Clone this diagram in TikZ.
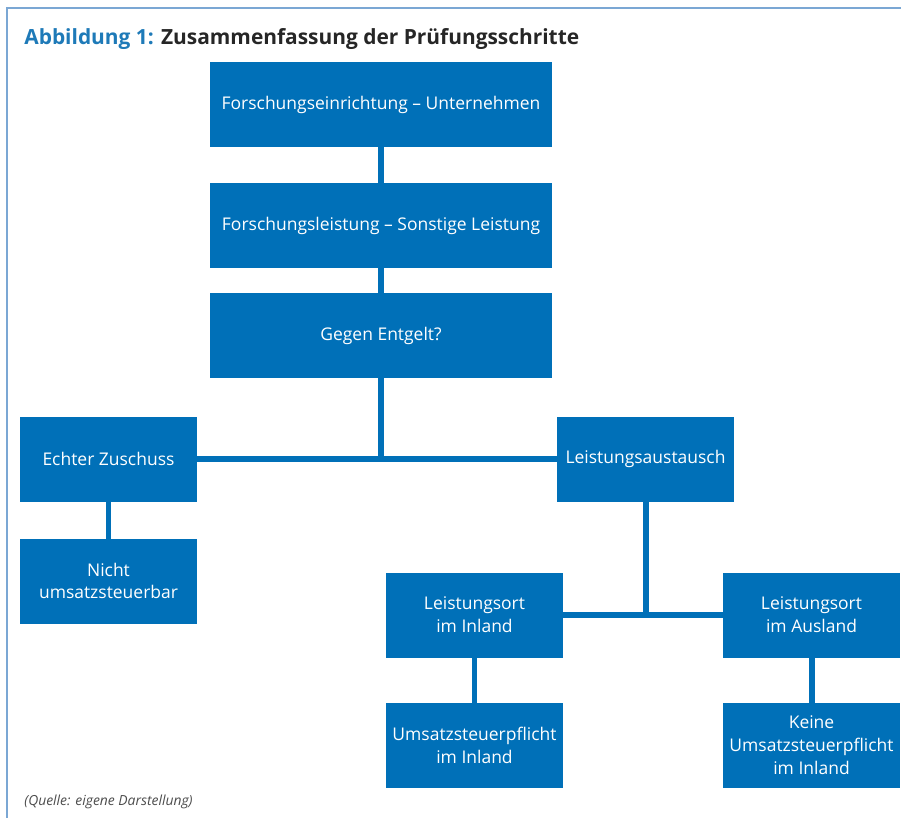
\documentclass[tikz,border=0pt]{standalone}
\usepackage{fontspec}
\setmainfont{Open Sans}
\usepackage{tikz}
\usetikzlibrary{positioning,calc}

\definecolor{boxblue}{HTML}{0070B8}
\definecolor{titleblue}{HTML}{1E7AB8}
\definecolor{frameblue}{HTML}{7BA7D4}

\tikzset{
    bigbox/.style={fill=boxblue,text=white,inner sep=0pt,outer sep=0pt,
        minimum width=6.84cm,minimum height=1.7cm,align=center,font=\fontsize{9.95}{13}\selectfont},
    smallbox/.style={bigbox,minimum width=3.54cm},
    link/.style={draw=boxblue,line width=3.4pt}
}

\begin{document}
\begin{tikzpicture}[x=0.02cm,y=-0.02cm]
            \useasboundingbox (0,0) rectangle (901,818);
            \draw[frameblue,line width=1.7pt] (901,8) -- (7,8) -- (7,818);
            \node[anchor=base west,inner sep=0pt,text=black!85,font=\fontsize{11.9}{14}\selectfont\bfseries] (titel) at (24,44)
                {\textcolor{titleblue}{Abbildung 1:} Zusammenfassung der Prüfungsschritte};

            \node[bigbox] (einrichtung) at (381,104.5) {Forschungseinrichtung – Unternehmen};
            \node[bigbox] (leistung) at (381,225.5) {Forschungsleistung – Sonstige Leistung};
            \node[bigbox] (entgelt) at (381,335.5) {Gegen Entgelt?};
            \node[smallbox] (zuschuss) at (108.5,459) {Echter Zuschuss};
            \node[smallbox] (nichtbar) at (108.5,581) {Nicht\\umsatzsteuerbar};
            \node[smallbox] (austausch) at (645.5,459) {Leistungsaustausch};
            \node[smallbox] (inland) at (474.5,615) {Leistungsort\\im Inland};
            \node[smallbox] (ausland) at (811.5,615) {Leistungsort\\im Ausland};
            \node[smallbox] (pflicht) at (474.5,745) {Umsatzsteuerpflicht\\im Inland};
            \node[smallbox] (keine) at (811.5,745) {Keine\\Umsatzsteuerpflicht\\im Inland};

            \draw[link] (einrichtung) -- (leistung);
            \draw[link] (leistung) -- (entgelt);
            \draw[link] (entgelt.south) -- (entgelt.south |- zuschuss.east);
            \draw[link] (zuschuss.east) -- (austausch.west);
            \draw[link] (zuschuss) -- (nichtbar);
            \draw[link] (austausch.south) -- (austausch.south |- inland.east);
            \draw[link] (inland.east) -- (ausland.west);
            \draw[link] (inland) -- (pflicht);
            \draw[link] (ausland) -- (keine);

            \node[anchor=base west,inner sep=0pt,text=black!70,font=\fontsize{7.9}{9}\selectfont\itshape] (quelle) at (24,805)
                {(Quelle: eigene Darstellung)};
        \end{tikzpicture}
\end{document}
